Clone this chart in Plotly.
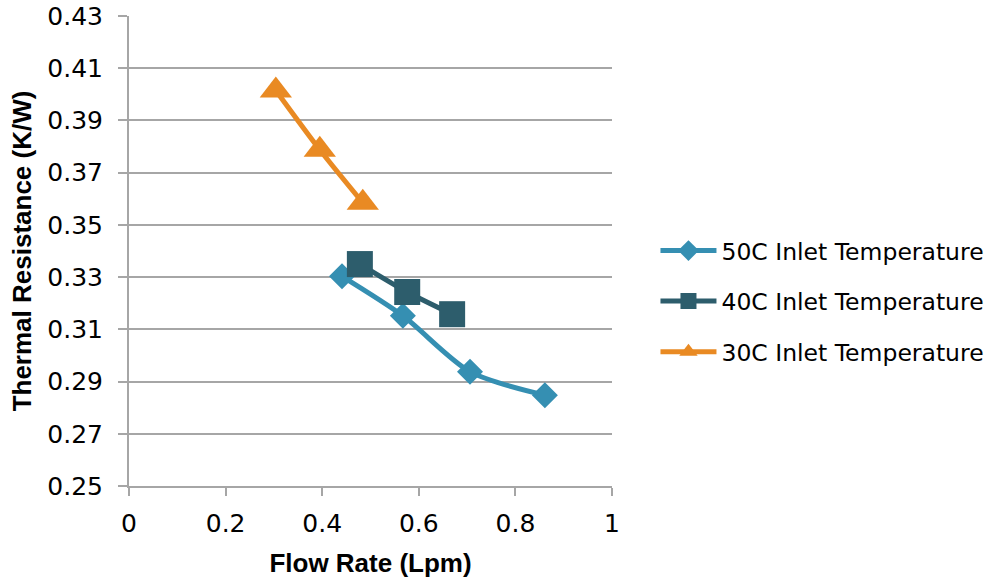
import plotly.graph_objects as go

# Data
flow_50 = [0.441, 0.567, 0.706, 0.861]
res_50 = [0.3303, 0.3152, 0.2938, 0.2848]

flow_40 = [0.478, 0.576, 0.669]
res_40 = [0.3350, 0.3243, 0.3158]

flow_30 = [0.304, 0.395, 0.484]
res_30 = [0.4015, 0.3788, 0.3585]

series_names = ["50C Inlet Temperature", "40C Inlet Temperature", "30C Inlet Temperature"]
x_ticks = [0, 0.2, 0.4, 0.6, 0.8, 1]
x_tick_text = ["0", "0.2", "0.4", "0.6", "0.8", "1"]
y_ticks = [0.25, 0.27, 0.29, 0.31, 0.33, 0.35, 0.37, 0.39, 0.41, 0.43]

c_blue = "rgb(53,143,178)"
c_dark = "rgb(45,93,108)"
c_orange = "rgb(233,138,35)"
c_axis = "#A6A6A6"

fig = go.Figure()
fig.add_trace(go.Scatter(x=flow_50, y=res_50, name=series_names[0], mode="lines+markers",
                         line=dict(color=c_blue, width=5, shape="spline", smoothing=0.8),
                         marker=dict(symbol="diamond", size=20, color=c_blue),
                         legendgroup="a"))
fig.add_trace(go.Scatter(x=flow_40, y=res_40, name=series_names[1], mode="lines+markers",
                         line=dict(color=c_dark, width=5, shape="spline", smoothing=0.8),
                         marker=dict(symbol="square", size=26, color=c_dark),
                         legendgroup="b"))
fig.add_trace(go.Scatter(x=flow_30, y=res_30, name=series_names[2], mode="lines+markers",
                         line=dict(color=c_orange, width=5, shape="spline", smoothing=0.8),
                         marker=dict(symbol="triangle-up", size=28, color=c_orange),
                         legendgroup="c"))

tick_font = dict(family="DejaVu Sans", size=25, color="#000000")
title_font = dict(family="Liberation Sans", size=26, color="#000000")

fig.update_layout(
    width=992, height=581,
    margin=dict(l=129, r=380, t=16, b=95, autoexpand=False),
    paper_bgcolor="white", plot_bgcolor="white",
    showlegend=True,
    legend=dict(x=1.09, y=0.393, xanchor="left", yanchor="middle",
                font=dict(family="DejaVu Sans", size=23.5, color="#000000"),
                traceorder="grouped", tracegroupgap=17, itemwidth=56,
                bgcolor="rgba(0,0,0,0)"),
    xaxis=dict(range=[0, 1], tickvals=x_ticks, ticktext=x_tick_text,
               showgrid=False, zeroline=False, showline=True, linecolor=c_axis, linewidth=2,
               ticks="outside", ticklen=8, tickwidth=2, tickcolor=c_axis,
               tickfont=tick_font, ticklabelstandoff=6, automargin=False,
               title=dict(text="<b>Flow Rate (Lpm)</b>", font=title_font, standoff=17)),
    yaxis=dict(range=[0.25, 0.43], tickvals=y_ticks, tickformat=".2f",
               showgrid=True, gridcolor=c_axis, gridwidth=2, zeroline=False,
               showline=True, linecolor=c_axis, linewidth=2,
               ticks="outside", ticklen=9, tickwidth=2, tickcolor=c_axis,
               tickfont=tick_font, ticklabelstandoff=10, automargin=False,
               title=dict(text="<b>Thermal Resistance (K/W)</b>", font=title_font, standoff=8)),
)

fig.write_html("out.html")
